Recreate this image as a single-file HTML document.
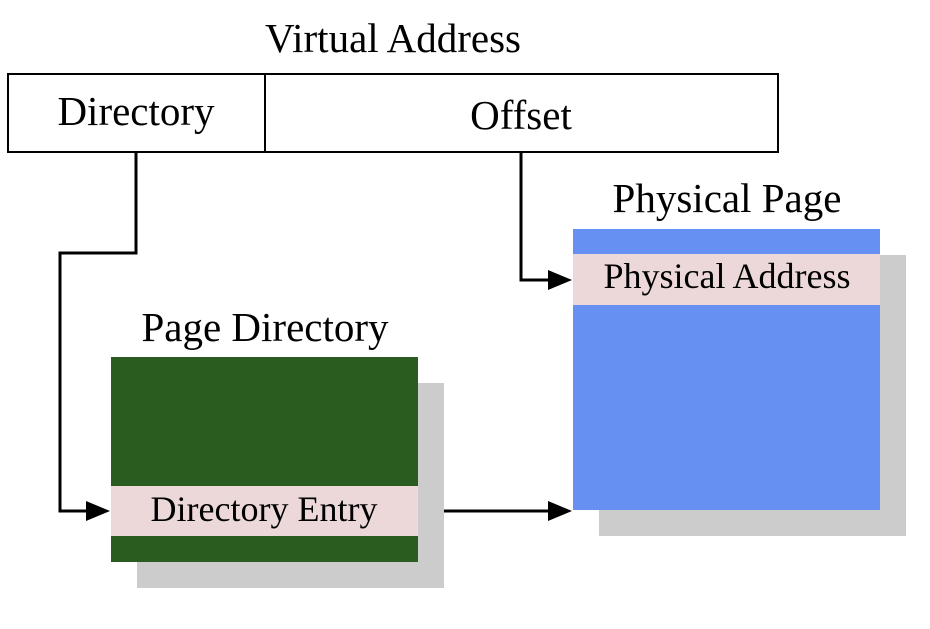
<!DOCTYPE html>
<html><head><meta charset="utf-8"><style>html,body{margin:0;padding:0;background:#fff}svg{display:block}</style></head>
<body>
<svg width="930" height="629" viewBox="0 0 930 629" xmlns="http://www.w3.org/2000/svg" font-family="Liberation Serif, serif">
<rect width="930" height="629" fill="#fff"/>
<text x="393" y="52" font-size="41" text-anchor="middle">Virtual Address</text>
<rect x="8" y="74" width="770" height="78" fill="#fff" stroke="#000" stroke-width="2"/>
<line x1="265" y1="74" x2="265" y2="152" stroke="#000" stroke-width="2"/>
<text x="136" y="125" font-size="41" text-anchor="middle">Directory</text>
<text x="521" y="129" font-size="41" text-anchor="middle">Offset</text>

<text x="265" y="341" font-size="41" text-anchor="middle">Page Directory</text>
<rect x="137" y="383" width="307" height="205" fill="#cccccc"/>
<rect x="111" y="357" width="307" height="205" fill="#2a5b1f"/>
<rect x="111" y="486" width="307" height="50" fill="#ecd8d8"/>
<text x="264" y="521" font-size="36" text-anchor="middle">Directory Entry</text>

<text x="727" y="212" font-size="41" text-anchor="middle">Physical Page</text>
<rect x="599" y="255" width="307" height="281" fill="#cccccc"/>
<rect x="573" y="229" width="307" height="281" fill="#6690f2"/>
<rect x="573" y="254" width="307" height="51" fill="#ecd8d8"/>
<text x="727" y="288" font-size="36" text-anchor="middle">Physical Address</text>

<g stroke="#000" stroke-width="3" fill="none">
<polyline points="136,152 136,253 60,253 60,511 88,511"/>
<polyline points="521,152 521,280 550,280"/>
<line x1="444" y1="511" x2="550" y2="511"/>
</g>
<g fill="#000">
<polygon points="86,501 110,511 86,521"/>
<polygon points="548,270 572,280 548,290"/>
<polygon points="548,501 572,511 548,521"/>
</g>
</svg>
</body></html>
